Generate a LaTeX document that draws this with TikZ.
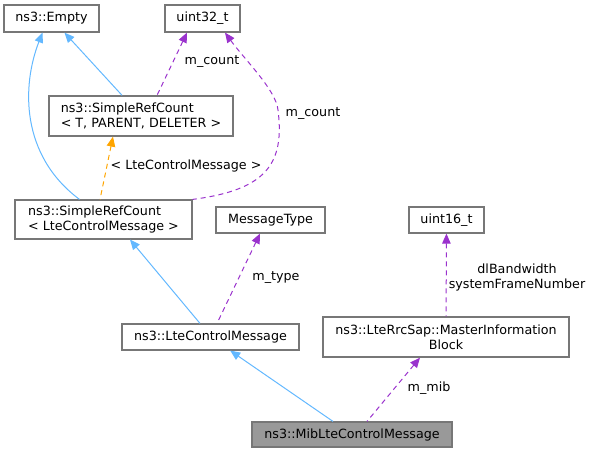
\documentclass[tikz,border=0pt]{standalone}
\usepackage{fontspec}
\setmainfont{DejaVu Sans}
\usepackage{tikz}
\usetikzlibrary{arrows.meta}
\definecolor{inhblue}{HTML}{63B8FF}
\definecolor{usepurple}{HTML}{9A32CD}
\definecolor{tmplorange}{HTML}{FFA500}
\definecolor{boxgray}{HTML}{777777}
\definecolor{mainfill}{HTML}{999999}
\tikzset{
  >={Triangle[length=10pt,width=8.5pt]},
  every node/.append style={font=\fontsize{12.7}{15}\selectfont},
}
\tikzset{
  cls/.style={draw=boxgray, fill=white, line width=1.2pt, inner sep=0pt, align=center},
  inh/.style={<-, draw=inhblue, line width=1pt},
  use/.style={<-, draw=usepurple, line width=1pt, dash pattern=on 5pt off 4pt},
  tmpl/.style={<-, draw=tmplorange, line width=1pt, dash pattern=on 5pt off 4pt},
  lbl/.style={inner sep=0pt}
}

\begin{document}
\begin{tikzpicture}[x=1pt, y=-1pt,
  mainbox/.style={cls, fill=mainfill},
  twoline/.style={cls, align=left}
]
\useasboundingbox (0,0) rectangle (593,453);

% classes, top row
\node[cls, minimum width=95pt, minimum height=27pt] (empty) at (51.5,18.5) {ns3::Empty};
\node[cls, minimum width=75pt, minimum height=27pt] (u32) at (202.5,18.5) {uint32\_t};

% reference counting
\node[twoline, minimum width=184pt, minimum height=40pt] (srct) at (141,116) {ns3::SimpleRefCount\\< T, PARENT, DELETER >};
\node[twoline, minimum width=177pt, minimum height=39pt] (srcl) at (103.5,219.5) {ns3::SimpleRefCount\\< LteControlMessage >};

% member types
\node[cls, minimum width=109pt, minimum height=26pt] (mtype) at (270.5,220) {MessageType};
\node[cls, minimum width=75pt, minimum height=26pt] (u16) at (446.5,220) {uint16\_t};

% message classes
\node[cls, minimum width=177pt, minimum height=26pt] (lcm) at (210.5,337) {ns3::LteControlMessage};
\node[cls, minimum width=246pt, minimum height=40pt] (mib) at (446,337) {ns3::LteRrcSap::MasterInformation\\Block};
\node[mainbox, minimum width=200pt, minimum height=25pt] (mibl) at (352,434.5) {ns3::MibLteControlMessage};

% inheritance
\draw[inh] (empty) -- (srct);
\draw[inh] ([xshift=-9pt]empty.south) .. controls (22,85) and (20,155) .. ([xshift=-24pt]srcl.north);
\draw[inh] ([xshift=26.5pt]srcl.south) -- ([xshift=-10.5pt]lcm.north);
\draw[inh] (lcm) -- (mibl);

% template instance
\draw[tmpl] ([xshift=-28pt]srct.south) -- ([xshift=-3.5pt]srcl.north);

% members
\draw[use] ([xshift=-15.5pt]u32.south) -- ([xshift=16pt]srct.north);
\draw[use] ([xshift=22.5pt]u32.south) .. controls (245,60) and (276,90) .. (278,110)
  .. controls (285,165) and (265,190) .. (srcl.north east);
\draw[use] ([xshift=-10.5pt]mtype.south) -- ([xshift=6.5pt]lcm.north);
\draw[use] (u16) -- (mib);
\draw[use] ([xshift=-26pt]mib.south) -- ([xshift=15pt]mibl.north);

% edge labels
\node[lbl] (lcount) at (212,62) {m\_count};
\node[lbl] (lcountb) at (313,114) {m\_count};
\node[lbl] (ltmpl) at (186,166) {< LteControlMessage >};
\node[lbl] (ltype) at (276,278) {m\_type};
\node[lbl, align=center] (lfields) at (517,277.5) {dlBandwidth\\systemFrameNumber};
\node[lbl] (lmib) at (429,388) {m\_mib};

\end{tikzpicture}
\end{document}
